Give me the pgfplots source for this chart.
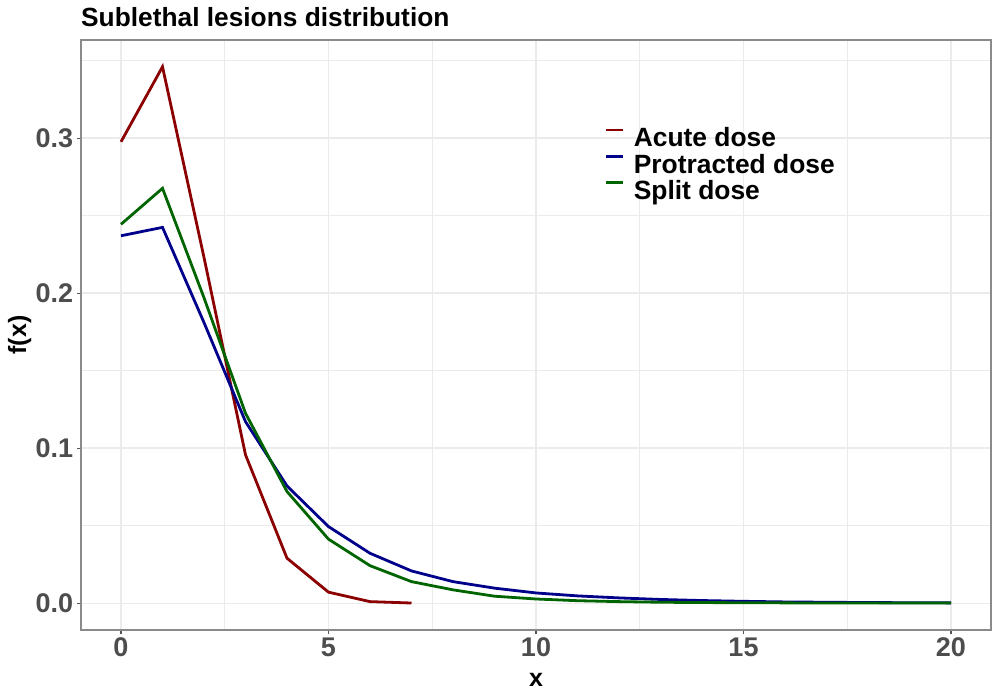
\documentclass[border=0pt]{standalone}
\usepackage{fontspec}
\setmainfont{Liberation Sans}
\usepackage{pgfplots}
\pgfplotsset{compat=1.18}
\definecolor{acute}{HTML}{8B0000}
\definecolor{prot}{HTML}{00008B}
\definecolor{split}{HTML}{006400}
\definecolor{gridc}{HTML}{EBEBEB}
\definecolor{ticklab}{HTML}{4D4D4D}
\definecolor{borderc}{HTML}{8A8A8A}
\definecolor{tickc}{HTML}{555555}
\begin{document}
\begin{tikzpicture}
\begin{axis}[
  at={(81bp,70bp)}, anchor=south west,
  scale only axis, width=910bp, height=590bp,
  clip mode=individual,
  xmin=-0.964, xmax=20.964, ymin=-0.0173, ymax=0.3633,
  xtick={0,5,10,15,20}, xticklabels={0,5,10,15,20},
  minor xtick={2.5,7.5,12.5,17.5},
  ytick={0,0.1,0.2,0.3}, yticklabels={0.0,0.1,0.2,0.3},
  minor ytick={0.05,0.15,0.25,0.35},
  /pgf/number format/assume math mode=true,
  grid=both,
  major grid style={gridc, line width=1.3bp},
  minor grid style={gridc, line width=0.7bp},
  minor tick length=0pt,
  major tick length=4bp,
  tick align=outside,
  tick pos=left,
  every tick/.style={tickc, line width=1.1bp},
  axis line style={borderc, line width=1.4bp},
  ticklabel style={font=\fontsize{27bp}{32bp}\selectfont\bfseries, text=ticklab, inner sep=0pt},
  yticklabel style={anchor=east, xshift=-3.6bp},
  xticklabel style={anchor=north, yshift=-3.5bp},
  xlabel={x}, ylabel={f(x)},
  xlabel style={at={(axis description cs:0.5,-0.0961)}, anchor=base, inner sep=0pt, font=\fontsize{25bp}{29bp}\selectfont\bfseries},
  ylabel style={at={(axis description cs:-0.0604,0.5)}, anchor=base, inner sep=0pt, rotate=0, font=\fontsize{25bp}{29bp}\selectfont\bfseries},
  legend style={draw=none, fill=none, at={(axis description cs:0.5758,0.8497)}, anchor=north west,
    inner sep=0pt, outer sep=0pt, row sep=3.2bp, column sep=9bp,
    font=\fontsize{26.4bp}{30bp}\selectfont\bfseries,
    nodes={inner sep=0pt, outer sep=0pt, text height=17bp, text depth=5bp}},
  legend cell align=left,
  legend image code/.code={\draw[#1, line width=2.8bp] (0bp,10.8bp) -- (17bp,10.8bp);},
]
\addplot[acute, line width=2.8bp, no markers] coordinates {
(0,0.2976) (1,0.3460) (2,0.2230) (3,0.0957) (4,0.0290) (5,0.0071) (6,0.0010) (7,0.0001)
};
\addlegendentry{Acute dose}
\addplot[prot, line width=2.8bp, no markers] coordinates {
(0,0.2370) (1,0.2424) (2,0.1810) (3,0.1171) (4,0.0756) (5,0.0494) (6,0.0322) (7,0.0208)
(8,0.0139) (9,0.0097) (10,0.0066) (11,0.0047) (12,0.0034) (13,0.0024) (14,0.0017)
(15,0.0012) (16,0.0008) (17,0.0006) (18,0.0004) (19,0.0003) (20,0.0002)
};
\addlegendentry{Protracted dose}
\addplot[split, line width=2.8bp, no markers] coordinates {
(0,0.2444) (1,0.2676) (2,0.1970) (3,0.1225) (4,0.0720) (5,0.0413) (6,0.0242) (7,0.0139)
(8,0.0086) (9,0.0045) (10,0.0027) (11,0.0016) (12,0.0010) (13,0.0006) (14,0.0004)
(15,0.0003) (16,0.0002) (17,0.0001) (18,0.0001) (19,0.0001) (20,0.0001)
};
\addlegendentry{Split dose}
\node[anchor=base west, inner sep=0pt, font=\fontsize{26.3bp}{31bp}\selectfont\bfseries] at (axis description cs:0,1.0225) {Sublethal lesions distribution};
\end{axis}
\pgfresetboundingbox
\path[use as bounding box] (0,0) rectangle (1000bp,700bp);
\end{tikzpicture}
\end{document}
